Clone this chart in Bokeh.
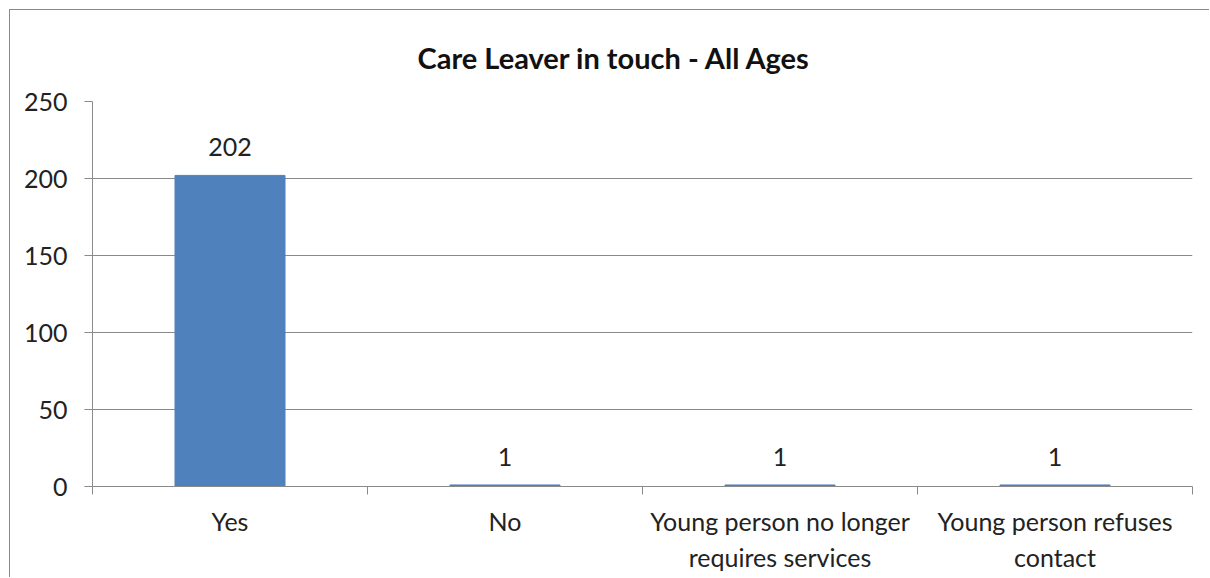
from bokeh.plotting import figure
from bokeh.models import (Range1d, FixedTicker, ColumnDataSource, Title)
from bokeh.core.properties import value
from bokeh.embed import file_html
from bokeh.resources import INLINE

categories = ["Yes", "No", "Young person no longer\nrequires services", "Young person refuses\ncontact"]
counts = [202, 1, 1, 1]
y_ticks = [0, 50, 100, 150, 200, 250]
title_text = "Care Leaver in touch - All Ages"

FONT = "Lato"
GREY = "#8a8a8a"
BAR = "#4f81bd"

n = len(categories)
centers = [i + 0.5 for i in range(n)]
bounds = list(range(n + 1))

src = ColumnDataSource(dict(x=centers, val=counts, lab=[str(v) for v in counts]))

p = figure(width=1200, height=568, x_range=Range1d(0, n), y_range=Range1d(0, 250),
           output_backend="svg", toolbar_location=None,
           min_border_left=82, min_border_top=91, min_border_right=18, min_border_bottom=92)
p.margin = (9, 0, 0, 9)
p.styles = {"border-left": "1px solid #8a8a8a", "border-top": "1px solid #8a8a8a"}
p.outline_line_color = None
p.background_fill_color = "white"
p.border_fill_color = "white"

p.vbar(x="x", top="val", width=0.4, color=BAR, source=src)
p.text(x="x", y="val", text="lab", source=src, text_align="center", text_baseline="bottom",
       y_offset=-19, text_font=value(FONT), text_font_size="25px", text_color="#222222")

# y axis
ya = p.yaxis[0]
ya.ticker = FixedTicker(ticks=y_ticks)
ya.axis_line_color = GREY
ya.major_tick_line_color = GREY
ya.major_tick_in = 0
ya.major_tick_out = 8
ya.minor_tick_line_color = None
ya.major_label_text_font = FONT
ya.major_label_text_font_size = "25px"
ya.major_label_text_color = "#222222"
ya.major_label_standoff = 17

p.xgrid.grid_line_color = None
p.ygrid.ticker = FixedTicker(ticks=y_ticks)
p.ygrid.grid_line_color = GREY
p.ygrid.grid_line_width = 1

# x axis: labels at category centres, boundary ticks as minor ticks
xa = p.xaxis[0]
xa.ticker = FixedTicker(ticks=centers, minor_ticks=bounds)
xa.major_label_overrides = {c: lab for c, lab in zip(centers, categories)}
xa.axis_line_color = GREY
xa.major_tick_line_color = None
xa.minor_tick_line_color = GREY
xa.minor_tick_in = 0
xa.minor_tick_out = 8
xa.major_tick_in = 0
xa.major_tick_out = 0
xa.major_label_text_font = FONT
xa.major_label_text_font_size = "25px"
xa.major_label_text_color = "#222222"
xa.major_label_standoff = 11

# title
t = Title(text=title_text, align="left", text_font=FONT, text_font_size="29px",
          text_font_style="bold", text_color="#111111", offset=325, standoff=54)
p.add_layout(t, "above")

open("out.html", "w").write(file_html(p, INLINE))
